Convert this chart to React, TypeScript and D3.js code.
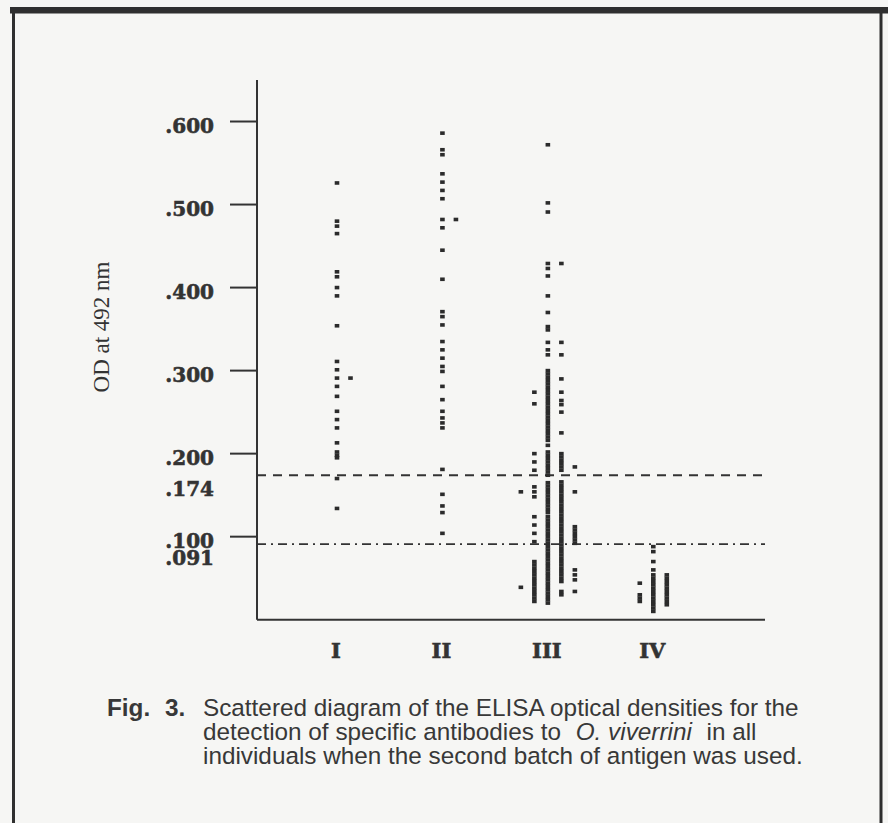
import React, { useRef, useEffect } from "react";
import * as d3 from "d3";

// categories and axis
const groups = ["I", "II", "III", "IV"];
const yTicks = [0.1, 0.2, 0.3, 0.4, 0.5, 0.6];
const cutoffLabels = [".174", ".091"];
const cutoffs = [0.174, 0.091];

// OD values, one array per column of dots
const groupIMain = [0.526, 0.48, 0.474, 0.465, 0.419, 0.413, 0.4, 0.39, 0.354, 0.311, 0.301, 0.291, 0.281, 0.269, 0.251, 0.241, 0.231, 0.213, 0.202, 0.198, 0.195, 0.17, 0.134];
const groupIRight = [0.291];

const groupIIMain = [0.586, 0.566, 0.56, 0.537, 0.527, 0.517, 0.507, 0.482, 0.472, 0.445, 0.41, 0.371, 0.365, 0.355, 0.335, 0.325, 0.315, 0.305, 0.299, 0.281, 0.265, 0.251, 0.243, 0.237, 0.231, 0.181, 0.151, 0.137, 0.129, 0.104];
const groupIIRight = [0.482];

const groupIIIFarLeft = [0.154, 0.039];
const groupIIILeft = [0.274, 0.26, 0.2, 0.19, 0.18, 0.16, 0.154, 0.148, 0.124, 0.114, 0.104, 0.094, 0.07, 0.066, 0.062, 0.058, 0.054, 0.05, 0.046, 0.042, 0.038, 0.034, 0.03, 0.026, 0.022];
const groupIIIMain = [
  0.572, 0.502, 0.491, 0.429, 0.423, 0.414, 0.39, 0.37, 0.353, 0.349, 0.334, 0.325, 0.319,
  0.3, 0.296, 0.292, 0.288, 0.284, 0.28, 0.276, 0.272, 0.268, 0.264, 0.26, 0.256, 0.252, 0.248, 0.244, 0.24,
  0.236, 0.232, 0.228, 0.224, 0.22, 0.216, 0.21, 0.202, 0.198, 0.194, 0.19, 0.186, 0.182, 0.178, 0.174,
  0.165, 0.161, 0.157, 0.153, 0.149, 0.145, 0.141, 0.137, 0.133, 0.129,
  0.124, 0.12, 0.116, 0.112, 0.108, 0.104, 0.1, 0.096, 0.092, 0.088, 0.084, 0.08, 0.076, 0.072, 0.068,
  0.064, 0.06, 0.056, 0.052, 0.048, 0.044, 0.04, 0.036, 0.032, 0.028, 0.024, 0.02,
];
const groupIIIRight = [
  0.429, 0.334, 0.319, 0.29, 0.274, 0.264, 0.259, 0.25, 0.225, 0.2, 0.196, 0.192, 0.188, 0.184, 0.18,
  0.166, 0.162, 0.158, 0.154, 0.15, 0.146, 0.142, 0.138, 0.134, 0.13, 0.126, 0.122, 0.118, 0.114, 0.11,
  0.106, 0.102, 0.098, 0.094, 0.09, 0.086, 0.082, 0.078, 0.074, 0.07, 0.066, 0.062, 0.058, 0.054, 0.05,
  0.046, 0.034, 0.03,
];
const groupIIIFarRight = [0.184, 0.154, 0.112, 0.108, 0.104, 0.1, 0.096, 0.092, 0.06, 0.054, 0.048, 0.034];

const groupIVLeft = [0.044, 0.03, 0.026, 0.022];
const groupIVMain = [0.088, 0.082, 0.07, 0.06, 0.054, 0.05, 0.046, 0.042, 0.038, 0.034, 0.03, 0.026, 0.022, 0.018, 0.014, 0.01];
const groupIVRight = [0.054, 0.05, 0.046, 0.042, 0.038, 0.034, 0.03, 0.026, 0.022, 0.018];

const columns = [
  { group: "I", col: 0, values: groupIMain },
  { group: "I", col: 1, values: groupIRight },
  { group: "II", col: 0, values: groupIIMain },
  { group: "II", col: 1, values: groupIIRight },
  { group: "III", col: -2, values: groupIIIFarLeft },
  { group: "III", col: -1, values: groupIIILeft },
  { group: "III", col: 0, values: groupIIIMain },
  { group: "III", col: 1, values: groupIIIRight },
  { group: "III", col: 2, values: groupIIIFarRight },
  { group: "IV", col: -1, values: groupIVLeft },
  { group: "IV", col: 0, values: groupIVMain },
  { group: "IV", col: 1, values: groupIVRight },
];

const W = 888;
const H = 823;
const ink = "#333";

const App = () => {
  const svgRef = useRef(null);

  useEffect(() => {
    const svg = d3.select(svgRef.current);
    svg.selectAll("*").remove();

    const x0 = 257;
    const x1 = 765;
    const y = d3.scaleLinear().domain([0, 0.65]).range([619.7, 80]);
    const x = d3.scalePoint().domain(groups).range([337, 653.3]);
    const colStep = 13.5;

    // paper + frame
    svg.append("rect").attr("width", W).attr("height", H).attr("fill", "#f6f6f4");
    svg.append("rect").attr("x", 10).attr("y", 7).attr("width", W - 10).attr("height", 6.5).attr("fill", "#2f2f2f");
    svg.append("line").attr("x1", 13.5).attr("x2", 13.5).attr("y1", 7).attr("y2", H).attr("stroke", "#2f2f2f").attr("stroke-width", 3);
    svg.append("line").attr("x1", 881).attr("x2", 881).attr("y1", 7).attr("y2", H).attr("stroke", "#2f2f2f").attr("stroke-width", 3);

    // axes
    svg.append("line").attr("x1", x0).attr("x2", x0).attr("y1", y(0.65)).attr("y2", y(0)).attr("stroke", ink).attr("stroke-width", 2);
    svg.append("line").attr("x1", x0).attr("x2", x1).attr("y1", y(0)).attr("y2", y(0)).attr("stroke", ink).attr("stroke-width", 2);

    const boldSerif = (sel, size) => sel
      .style("font-family", "'DejaVu Serif', serif")
      .style("font-weight", "bold")
      .style("font-size", size)
      .attr("fill", ink)
      .attr("stroke", ink)
      .attr("stroke-width", 0.6);

    const ticks = svg.append("g");
    ticks.selectAll("line").data(yTicks).enter().append("line")
      .attr("x1", 230).attr("x2", x0)
      .attr("y1", d => y(d)).attr("y2", d => y(d))
      .attr("stroke", ink).attr("stroke-width", 2);
    boldSerif(ticks.selectAll("text").data(yTicks).enter().append("text")
      .attr("x", 214).attr("y", d => y(d) + 11)
      .attr("text-anchor", "end"), "20px")
      .text(d => d3.format(".3f")(d).replace(/^0/, ""));

    // cut-off lines
    svg.append("line").attr("x1", x0).attr("x2", x1).attr("y1", y(cutoffs[0])).attr("y2", y(cutoffs[0]))
      .attr("stroke", ink).attr("stroke-width", 1.8).attr("stroke-dasharray", "9,7");
    svg.append("line").attr("x1", x0).attr("x2", x1).attr("y1", y(cutoffs[1])).attr("y2", y(cutoffs[1]))
      .attr("stroke", ink).attr("stroke-width", 1.8).attr("stroke-dasharray", "9,5,2,5");
    boldSerif(svg.append("g").selectAll("text").data(cutoffs).enter().append("text")
      .attr("x", 214).attr("y", d => y(d) + 21)
      .attr("text-anchor", "end"), "20px")
      .text((d, i) => cutoffLabels[i]);

    // dots
    const points = columns.flatMap(c => c.values.map(v => ({ group: c.group, col: c.col, value: v })));
    svg.append("g").selectAll("rect").data(points).enter().append("rect")
      .attr("x", d => x(d.group) + d.col * colStep - 2.3)
      .attr("y", d => y(d.value) - 1.8)
      .attr("width", 4.6)
      .attr("height", 3.6)
      .attr("fill", "#2b2b2b");

    // group labels
    boldSerif(svg.append("g").selectAll("text").data(groups).enter().append("text")
      .attr("x", d => x(d) - 1).attr("y", 658)
      .attr("text-anchor", "middle"), "21px")
      .text(d => d);

    // y title
    svg.append("text")
      .attr("transform", "translate(109, 327) rotate(-90)")
      .attr("text-anchor", "middle")
      .style("font-family", "'Liberation Serif', serif")
      .style("font-size", "23px")
      .attr("fill", "#333")
      .text("OD at 492 nm");

    // caption
    const cap = svg.append("g")
      .style("font-family", "'Liberation Sans', Arial, sans-serif")
      .style("font-size", "24.3px")
      .attr("fill", "#383838");
    cap.append("text").attr("x", 107).attr("y", 716).style("font-weight", "bold").text("Fig.");
    cap.append("text").attr("x", 165).attr("y", 716).style("font-weight", "bold").text("3.");
    cap.append("text").attr("x", 203).attr("y", 716).text("Scattered diagram of the ELISA optical densities for the");
    const l2 = cap.append("text").attr("x", 203).attr("y", 740);
    l2.append("tspan").text("detection of specific antibodies to ");
    l2.append("tspan").attr("dx", 8).style("font-style", "italic").text("O. viverrini");
    l2.append("tspan").attr("dx", 8).text(" in all");
    cap.append("text").attr("x", 203).attr("y", 764).text("individuals when the second batch of antigen was used.");
  }, []);

  return (
    <svg ref={svgRef} width={W} height={H} style={{ position: "absolute", left: 0, top: 0 }}></svg>
  );
};

export default App;
